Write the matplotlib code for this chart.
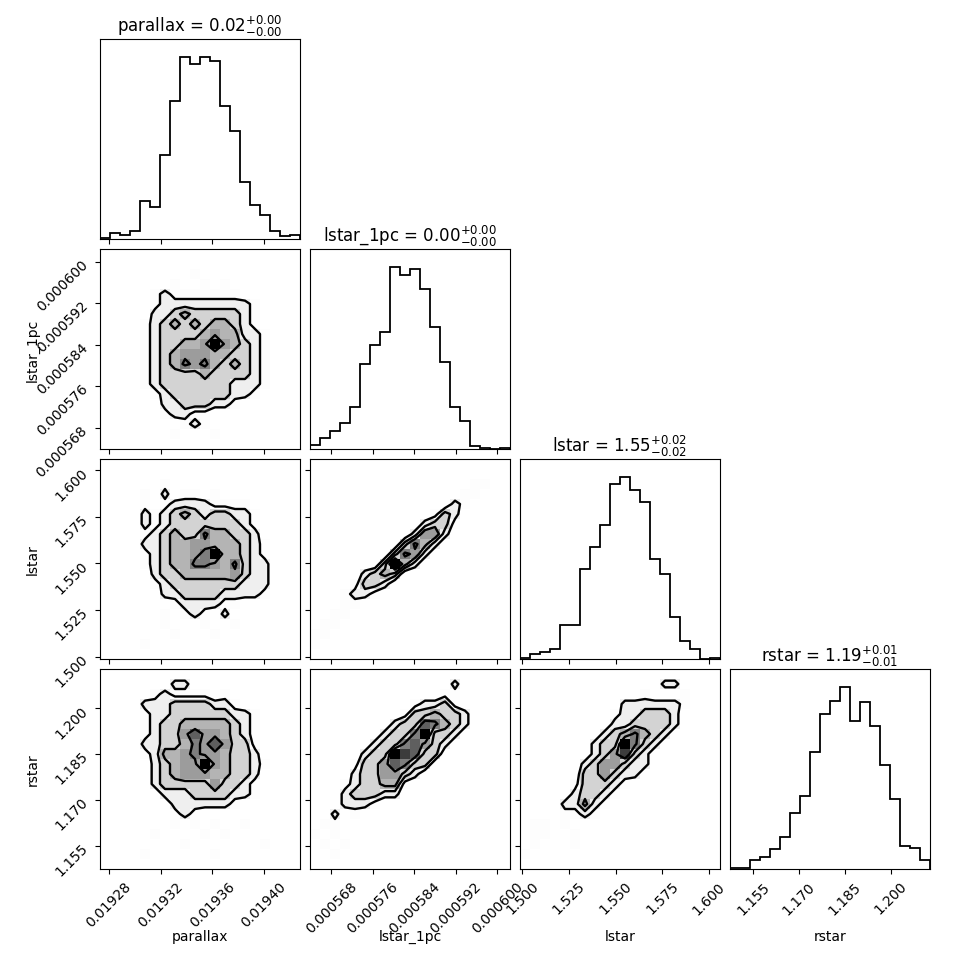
import numpy as np
import matplotlib
matplotlib.use("Agg")
import matplotlib.pyplot as plt
from matplotlib.colors import LinearSegmentedColormap

# ---------------- data ----------------
labels = ["parallax", "lstar_1pc", "lstar", "rstar"]

ranges = [
    (0.019273, 0.019428),
    (0.0005639, 0.0006025),
    (1.49875, 1.60606),
    (1.14735, 1.21289),
]

# 1D marginal histograms (20 bins, relative counts)
parallax_counts = [3, 17, 12, 25, 114, 95, 253, 413, 545, 524,
                   545, 535, 398, 323, 171, 102, 72, 25, 9, 12]
lstar_1pc_counts = [12, 32, 53, 77, 125, 254, 311, 350, 545, 523,
                    540, 479, 365, 262, 125, 83, 9, 2, 0, 2]
lstar_counts = [2, 15, 22, 30, 102, 102, 270, 336, 401, 525,
                545, 508, 471, 300, 254, 125, 55, 30, 0, 2]
rstar_counts = [4, 4, 27, 35, 59, 95, 169, 220, 352, 464,
                504, 545, 443, 500, 430, 312, 211, 68, 62, 26]
hist_counts = [parallax_counts, lstar_1pc_counts, lstar_counts, rstar_counts]

title_median = ["0.02", "0.00", "1.55", "1.19"]
title_minus = ["0.00", "0.00", "0.02", "0.01"]
title_plus = ["0.00", "0.00", "0.02", "0.01"]

tick_values = [
    [0.01928, 0.01932, 0.01936, 0.01940],
    [0.000568, 0.000576, 0.000584, 0.000592, 0.000600],
    [1.500, 1.525, 1.550, 1.575, 1.600],
    [1.155, 1.170, 1.185, 1.200],
]
tick_labels = [
    ["0.01928", "0.01932", "0.01936", "0.01940"],
    ["0.000568", "0.000576", "0.000584", "0.000592", "0.000600"],
    ["1.500", "1.525", "1.550", "1.575", "1.600"],
    ["1.155", "1.170", "1.185", "1.200"],
]

# 2D histograms (20 x 20 bins) as density classes 0-9,
# rows from top (high y) to bottom, columns from left (low x) to right.
grid_lstar1pc_parallax = [
    "00000000000000000000",
    "00000000000000000000",
    "00000000010000000000",
    "00000001001010000000",
    "00000121111111000000",
    "00000122222222210000",
    "00000223433333210000",
    "00001234343443210000",
    "00001233334544221000",
    "00001233445954321000",
    "00001234555443321000",
    "00001234656434321000",
    "00001233334333321000",
    "00001233333332221000",
    "00000123333332210000",
    "00000022333221000000",
    "00000012211000000000",
    "00000000121000000000",
    "00000001000100000000",
    "00000000000000000000",
]
grid_lstar_parallax = [
    "00000000000000000000",
    "00000000000000000000",
    "00000010000000000000",
    "00001020110100000000",
    "00001012222111100000",
    "00002123432332210000",
    "00002123333333210000",
    "00001234336443320000",
    "00002234455444321000",
    "00001234456944321000",
    "00001234466546322000",
    "00000233444445322000",
    "00000123333333222000",
    "00000022333322221000",
    "00000001222211000000",
    "00000010121020000000",
    "00000010001001000000",
    "00000001000100000000",
    "00001000000000000000",
    "00000000000000000000",
]
grid_lstar_lstar1pc = [
    "00000000000000000000",
    "00000000000000000000",
    "00000000000000001100",
    "00000000000000011000",
    "00000000000000210000",
    "00000000000013200000",
    "00000000000233100000",
    "00000000002552000000",
    "00000000036420000000",
    "00000000365200000000",
    "00000003942000000000",
    "00000234300000000000",
    "00001332000000000000",
    "00012210000000000000",
    "00011000000000000000",
    "00110000000000000000",
    "01100000000000000000",
    "11000000000000000000",
    "10000000000000000000",
    "00000000000000000000",
]
grid_rstar_parallax = [
    "00000000000000000000",
    "00000002200000000000",
    "00000121111010000000",
    "00002223333221000000",
    "00001223333332210000",
    "00001233444443210000",
    "00001233575543210000",
    "00002233465753310000",
    "00001244565543320000",
    "00000234559543321000",
    "00000234555443320000",
    "00000233333533210000",
    "00000022233332210000",
    "00000002222221000000",
    "00000001210000000000",
    "00000001010100100000",
    "00000100001010000000",
    "00000000100000001000",
    "00001000000100000000",
    "00000000000000000000",
]
grid_rstar_lstar1pc = [
    "00000000000000000000",
    "00000000000000200000",
    "00000000000001100000",
    "00000000001223100000",
    "00000000013343320000",
    "00000000233764320000",
    "00000002336933200000",
    "00000023367532000000",
    "00000233987330000000",
    "00001335763300000000",
    "00002335532000000000",
    "00012334410000000000",
    "00023332200000000000",
    "00022210000000000000",
    "00201000000000000000",
    "01100000000000000000",
    "10100000000000000000",
    "01010000000000000000",
    "00100000000000000000",
    "00000000000000000000",
]
grid_rstar_lstar = [
    "00000000000000000000",
    "00000000000000220000",
    "00000000000010001000",
    "00000000002222221000",
    "00000000012233320000",
    "00000000022333320000",
    "00000000234643200000",
    "00000002339632000000",
    "00000002358320000000",
    "00000023553220000000",
    "00000033532200000000",
    "00000133321000000000",
    "00000233210000000000",
    "00002242100000000000",
    "00001121000000000000",
    "01101000000000000000",
    "01100100000000000000",
    "01000100000000000000",
    "10000000000000000000",
    "00000000000000000000",
]
grids = {
    (1, 0): grid_lstar1pc_parallax,
    (2, 0): grid_lstar_parallax,
    (2, 1): grid_lstar_lstar1pc,
    (3, 0): grid_rstar_parallax,
    (3, 1): grid_rstar_lstar1pc,
    (3, 2): grid_rstar_lstar,
}

# relative counts for each density class 0..9
class_counts = [0, 1, 3, 5, 6.5, 7.5, 8.5, 9.5, 10.5, 12]
# density classes bounding the 2.0, 1.5, 1.0, 0.5 sigma contours
contour_classes = [2, 3, 4, 6]

# ---------------- plotting ----------------
K = len(labels)
NB = 20
FIG = 970.0
fig = plt.figure(figsize=(9.7, 9.7), dpi=100)

density_cmap = LinearSegmentedColormap.from_list("density_cmap", ["k", (1, 1, 1, 0)])
white_cmap = LinearSegmentedColormap.from_list("white_cmap", [(1, 1, 1), (1, 1, 1)], N=2)
cc = np.array(class_counts, dtype=float)
V = np.array([0.5 * (cc[k - 1] + cc[k]) for k in contour_classes])


def grid_to_H(rows):
    assert len(rows) == NB and all(len(r) == NB for r in rows)
    arr = np.array([[cc[int(c)] for c in r] for r in rows], dtype=float)
    return arr[::-1].T  # H[x_bin, y_bin]


def hist2d(ax, H, xr, yr):
    X = np.linspace(xr[0], xr[1], NB + 1)
    Y = np.linspace(yr[0], yr[1], NB + 1)
    X1 = 0.5 * (X[1:] + X[:-1])
    Y1 = 0.5 * (Y[1:] + Y[:-1])
    H2 = H.min() + np.zeros((H.shape[0] + 4, H.shape[1] + 4))
    H2[2:-2, 2:-2] = H
    H2[2:-2, 1] = H[:, 0]
    H2[2:-2, -2] = H[:, -1]
    H2[1, 2:-2] = H[0]
    H2[-2, 2:-2] = H[-1]
    H2[1, 1] = H[0, 0]
    H2[1, -2] = H[0, -1]
    H2[-2, 1] = H[-1, 0]
    H2[-2, -2] = H[-1, -1]
    dx = X1[1] - X1[0]
    dy = Y1[1] - Y1[0]
    X2 = np.concatenate([X1[0] + np.array([-2, -1]) * dx, X1, X1[-1] + np.array([1, 2]) * dx])
    Y2 = np.concatenate([Y1[0] + np.array([-2, -1]) * dy, Y1, Y1[-1] + np.array([1, 2]) * dy])
    ax.contourf(X2, Y2, H2.T, [V.min(), cc.max() + 1], cmap=white_cmap, antialiased=False)
    ax.pcolormesh(X, Y, cc.max() - H.T, cmap=density_cmap, shading="flat",
                  vmin=0, vmax=cc.max())
    ax.contour(X2, Y2, H2.T, V, colors="k", linewidths=1.7)


for i in range(K):
    for j in range(i + 1):
        left = (100 + 210 * j) / FIG
        bottom = 1 - (240 + 210 * i) / FIG
        ax = fig.add_axes([left, bottom, 200 / FIG, 200 / FIG])
        if i == j:
            counts = np.array(hist_counts[i], dtype=float)
            edges = np.linspace(ranges[i][0], ranges[i][1], NB + 1)
            ax.stairs(counts, edges, color="k", linewidth=1.3)
            ax.set_ylim(0, 1.1 * counts.max())
            ax.set_yticks([])
            ax.set_title(r"%s = $%s_{-%s}^{+%s}$" % (labels[i], title_median[i],
                                                     title_minus[i], title_plus[i]),
                         fontsize=12)
        else:
            hist2d(ax, grid_to_H(grids[(i, j)]), ranges[j], ranges[i])
            ax.set_ylim(*ranges[i])
            if j == 0:
                ax.set_yticks(tick_values[i], tick_labels[i], rotation=45)
                ax.set_ylabel(labels[i], fontsize=10)
                ax.yaxis.set_label_coords(-0.3, 0.5)
            else:
                ax.set_yticks(tick_values[i], [])
        ax.set_xlim(*ranges[j])
        if i == K - 1:
            ax.set_xticks(tick_values[j], tick_labels[j], rotation=45)
            ax.set_xlabel(labels[j], fontsize=10)
            ax.xaxis.set_label_coords(0.5, -0.3)
        else:
            ax.set_xticks(tick_values[j], [])

fig.savefig("out.png", dpi=100)
